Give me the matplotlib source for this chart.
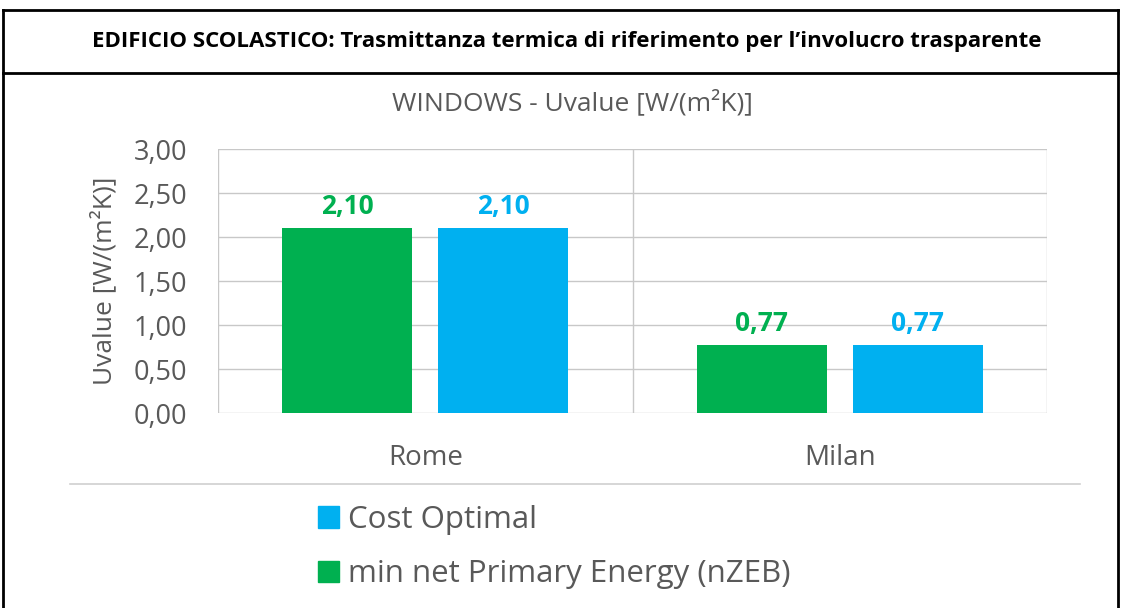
import numpy as np
import matplotlib
matplotlib.use("Agg")
import matplotlib.pyplot as plt
from matplotlib.lines import Line2D
from matplotlib.patches import Patch

plt.rcParams["font.family"] = ["Open Sans", "DejaVu Sans"]

cities = ["Rome", "Milan"]
nzeb = [2.10, 0.77]
cost_optimal = [2.10, 0.77]
y_ticks = [0.0, 0.5, 1.0, 1.5, 2.0, 2.5, 3.0]

GREEN = "#00B050"
BLUE = "#00B0F0"
GREY = "#595959"

W, H = 1121, 608
fig = plt.figure(figsize=(W / 100, H / 100), dpi=100)

# outer frame of the table cell
frame = dict(color="black", linewidth=2, transform=fig.transFigure)
fig.add_artist(Line2D([3 / W, 1118 / W], [1 - 10 / H, 1 - 10 / H], **frame))
fig.add_artist(Line2D([3 / W, 1118 / W], [1 - 73 / H, 1 - 73 / H], **frame))
fig.add_artist(Line2D([3 / W, 3 / W], [0, 1 - 10 / H], **frame))
fig.add_artist(Line2D([1118 / W, 1118 / W], [0, 1 - 10 / H], **frame))
fig.text(567 / W, 1 - 41 / H, "EDIFICIO SCOLASTICO: Trasmittanza termica di riferimento per l’involucro trasparente",
         ha="center", va="center", fontsize=16, fontweight="bold", color="black")

# separator line above legend
fig.add_artist(Line2D([70 / W, 1080 / W], [1 - 484 / H, 1 - 484 / H], color="#d0d0d0",
                      linewidth=1.2, transform=fig.transFigure))

ax = fig.add_axes([218 / W, 1 - 413 / H, (1047 - 218) / W, (413 - 149) / H])
x = np.arange(len(cities))
width = 0.313
off = 0.188
b1 = ax.bar(x - off, nzeb, width, color=GREEN, zorder=3)
b2 = ax.bar(x + off, cost_optimal, width, color=BLUE, zorder=3)

for bars, vals, c in [(b1, nzeb, GREEN), (b2, cost_optimal, BLUE)]:
    for rect, v in zip(bars, vals):
        ax.text(rect.get_x() + rect.get_width() / 2, v + 0.09, f"{v:.2f}".replace(".", ","),
                ha="center", va="bottom", fontsize=19, fontweight="bold", color=c)

ax.set_xlim(-0.5, len(cities) - 0.5)
ax.set_ylim(0, 3.0)
ax.set_yticks(y_ticks)
ax.set_yticklabels([f"{t:.2f}".replace(".", ",") for t in y_ticks], fontsize=19.5, color=GREY)
ax.set_xticks(x)
ax.set_xticklabels(cities, fontsize=20, color=GREY)
ax.tick_params(axis="both", length=0)
ax.tick_params(axis="y", pad=22)
ax.tick_params(axis="x", pad=22)
ax.grid(axis="y", color="#c8c8c8", linewidth=1, zorder=0)
for xb in np.arange(-0.5, len(cities), 1.0):
    ax.axvline(xb, color="#c8c8c8", linewidth=1, zorder=0)
for s in ax.spines.values():
    s.set_visible(False)
ax.set_ylabel("Uvalue [W/(m²K)]", fontsize=19, color=GREY, labelpad=12)

fig.text(572 / W, 1 - 103 / H, "WINDOWS - Uvalue [W/(m²K)]", ha="center", va="center",
         fontsize=19, color=GREY)

handles = [Patch(color=BLUE), Patch(color=GREEN)]
fig.legend(handles, ["Cost Optimal", "min net Primary Energy (nZEB)"],
           loc="upper left", bbox_to_anchor=(318 / W, 1 - 505 / H), frameon=False,
           borderpad=0, borderaxespad=0,
           fontsize=22.5, labelcolor=GREY, handlelength=0.67, handleheight=0.67,
           handletextpad=0.3, labelspacing=0.78)

fig.savefig("out.png", dpi=100)
